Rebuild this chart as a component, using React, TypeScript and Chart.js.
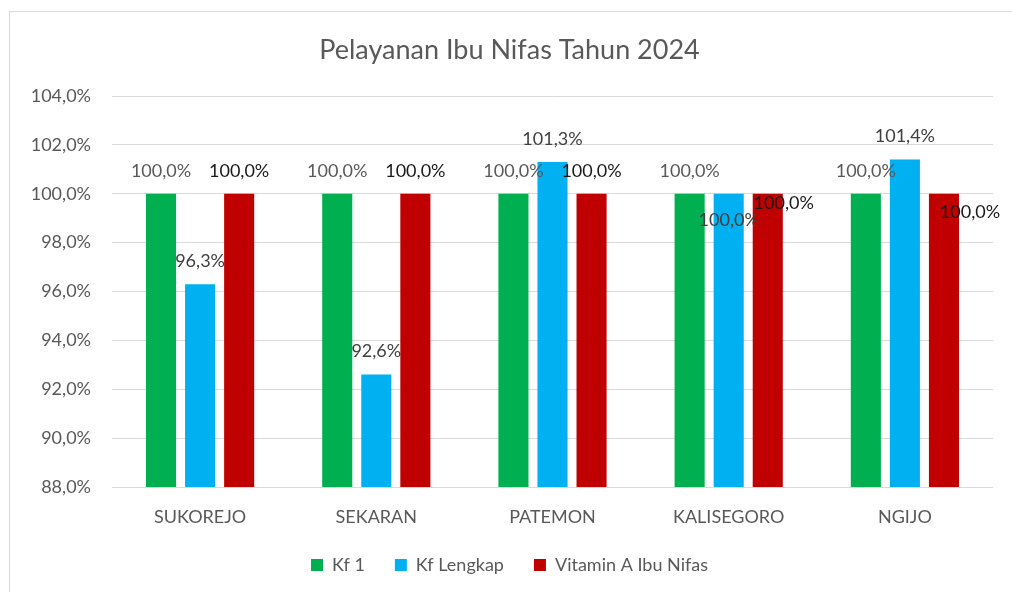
import React, { useEffect, useRef } from "react";
import { Chart, registerables } from "chart.js";

Chart.register(...registerables);

const categories = ["SUKOREJO", "SEKARAN", "PATEMON", "KALISEGORO", "NGIJO"];
const seriesNames = ["Kf 1", "Kf Lengkap", "Vitamin A Ibu Nifas"];
const kf1 = [100.0, 100.0, 100.0, 100.0, 100.0];
const kfLengkap = [96.3, 92.6, 101.3, 100.0, 101.4];
const vitaminA = [100.0, 100.0, 100.0, 100.0, 100.0];
const yMin = 88;
const yMax = 104;
const yStep = 2;
const titleText = "Pelayanan Ibu Nifas Tahun 2024";

// label nudges (Excel-style overlap avoidance): [datasetIndex][categoryIndex] -> [dx, dy]
const labelShift: Record<number, Record<number, [number, number]>> = {
  1: { 3: [0, 49] },
  2: { 3: [16, 32], 4: [26, 41] },
};

const FONT = "Lato, 'Noto Sans', sans-serif";
const colors = ["#00B050", "#00B0F0", "#C00000"];
const labelColors = ["#595959", "#404040", "#1a1a1a"];

const fmt = (v: number) => v.toFixed(1).replace(".", ",") + "%";

const labelPlugin = {
  id: "barLabels",
  afterDatasetsDraw(chart: any) {
    const ctx = chart.ctx;
    ctx.save();
    ctx.font = `18px ${FONT}`;
    ctx.textAlign = "center";
    ctx.textBaseline = "middle";
    chart.data.datasets.forEach((ds: any, di: number) => {
      const meta = chart.getDatasetMeta(di);
      meta.data.forEach((bar: any, i: number) => {
        const shift = (labelShift[di] && labelShift[di][i]) || [0, 0];
        ctx.fillStyle = labelColors[di];
        ctx.fillText(fmt(ds.data[i]), bar.x + shift[0], bar.y - 23 + shift[1]);
      });
    });
    ctx.restore();
  },
};

export default function App() {
  const ref = useRef<HTMLCanvasElement>(null);
  useEffect(() => {
    document.body.style.margin = "0";
    const chart = new Chart(ref.current as HTMLCanvasElement, {
      type: "bar",
      data: {
        labels: categories,
        datasets: [
          { label: seriesNames[0], data: kf1, backgroundColor: colors[0], borderWidth: 0 },
          { label: seriesNames[1], data: kfLengkap, backgroundColor: colors[1], borderWidth: 0 },
          { label: seriesNames[2], data: vitaminA, backgroundColor: colors[2], borderWidth: 0 },
        ],
      },
      options: {
        animation: false,
        responsive: false,
        devicePixelRatio: 1,
        layout: { padding: { left: 26, right: 19, top: 0, bottom: 8 } },
        datasets: { bar: { categoryPercentage: 0.665, barPercentage: 0.77 } },
        plugins: {
          title: {
            display: true,
            text: titleText,
            color: "#595959",
            font: { family: FONT, size: 27, weight: "normal" },
            padding: { top: 34, bottom: 29.6 },
          },
          legend: {
            position: "bottom",
            labels: {
              color: "#595959",
              font: { family: FONT, size: 18 },
              boxWidth: 12,
              boxHeight: 12,
              padding: 30,
            },
          },
          tooltip: { enabled: false },
        },
        scales: {
          x: {
            grid: { display: false, drawTicks: false },
            border: { display: false },
            ticks: { color: "#595959", font: { family: FONT, size: 18 }, padding: 19 },
            afterFit: (s: any) => {
              s.height = 39;
            },
          },
          y: {
            min: yMin,
            max: yMax,
            grid: { color: "#d9d9d9", drawTicks: false, lineWidth: 1 },
            border: { display: false },
            ticks: {
              stepSize: yStep,
              color: "#595959",
              font: { family: FONT, size: 18 },
              padding: 21,
              callback: (v: any) => fmt(Number(v)),
            },
            afterFit: (s: any) => {
              s.width = 86;
            },
          },
        },
      },
      plugins: [labelPlugin],
    });
    return () => chart.destroy();
  }, []);
  return (
    <div style={{ position: "fixed", left: 0, top: 0, width: 1012, height: 592, overflow: "hidden", background: "#fff" }}>
      <div style={{ position: "absolute", left: 9, top: 11, width: 1100, height: 700, border: "1px solid #d9d9d9" }} />
      <canvas ref={ref} width={1012} height={592} style={{ position: "absolute", left: 0, top: 0 }} />
    </div>
  );
}
